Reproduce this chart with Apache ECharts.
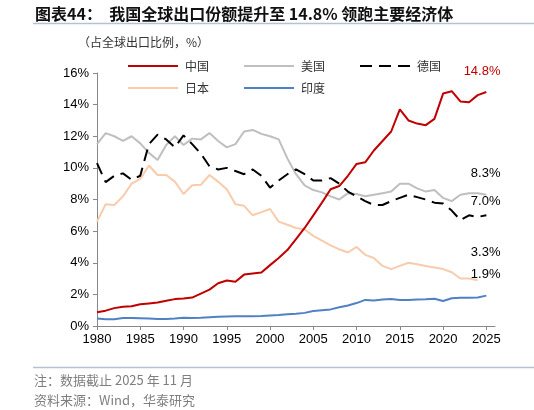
<!DOCTYPE html>
<html>
<head>
<meta charset="utf-8">
<script src="https://cdn.jsdelivr.net/npm/echarts@6/dist/echarts.min.js"></script>
<style>
html,body{margin:0;padding:0;background:#fff;}
#c{width:534px;height:410px;}
</style>
</head>
<body>
<div id="c"></div>
<script>
var years = [];
for (var y = 1980; y <= 2025; y++) years.push(y);

var china = [0.87,0.97,1.13,1.22,1.25,1.38,1.43,1.48,1.6,1.7,1.74,1.8,2.05,2.3,2.7,2.88,2.8,3.25,3.32,3.38,3.85,4.3,4.8,5.5,6.2,7.0,7.8,8.65,8.85,9.5,10.25,10.35,11.1,11.7,12.3,13.7,13.0,12.8,12.7,13.1,14.7,14.85,14.2,14.15,14.6,14.8];
var usa = [11.5,12.2,12.0,11.7,12.0,11.55,10.95,10.5,11.45,12.0,11.45,11.85,11.8,12.2,11.7,11.3,11.5,12.3,12.4,12.15,12.0,11.8,10.6,9.6,8.9,8.6,8.45,8.2,8.0,8.4,8.35,8.2,8.3,8.4,8.5,9.0,9.0,8.7,8.5,8.6,8.1,7.9,8.3,8.4,8.4,8.3];
var germany = [10.3,9.1,9.5,9.65,9.25,9.5,11.5,12.1,11.8,11.3,12.05,11.5,10.9,10.1,9.9,10.0,9.8,9.6,9.9,9.5,8.75,9.2,9.6,9.9,9.6,9.2,9.2,9.35,9.0,8.5,8.2,7.9,7.65,7.65,7.9,8.1,8.3,8.15,8.0,7.8,7.75,7.3,6.7,7.0,6.9,7.0];
var japan = [6.6,7.7,7.65,8.2,9.0,9.3,10.15,9.55,9.55,9.13,8.35,8.9,8.93,9.55,9.13,8.65,7.7,7.6,7.0,7.2,7.4,6.6,6.4,6.2,6.1,5.7,5.4,5.1,4.85,4.65,5.0,4.5,4.3,3.8,3.6,3.8,4.0,3.9,3.8,3.7,3.6,3.4,3.0,3.0,2.9,null];
var india = [0.48,0.43,0.43,0.5,0.5,0.49,0.47,0.45,0.45,0.48,0.52,0.51,0.52,0.55,0.58,0.6,0.61,0.62,0.61,0.63,0.66,0.69,0.74,0.78,0.83,0.95,1.0,1.05,1.18,1.3,1.45,1.65,1.62,1.67,1.7,1.64,1.65,1.68,1.69,1.72,1.58,1.75,1.79,1.79,1.8,1.92];

var xTicks = [1980,1985,1990,1995,2000,2005,2010,2015,2020,2025];
var endLabels = ['14.8%','8.3%','7.0%','3.3%','1.9%'];
var titleText = '图表44：  我国全球出口份额提升至 14.8% 领跑主要经济体';
var unitText = '（占全球出口比例，%）';
var noteText = '注：数据截止 2025 年 11 月';
var sourceText = '资料来源：Wind，华泰研究';

function pairs(arr){ return years.map(function(y,i){ return [y, arr[i]]; }); }

var FONT = '"Liberation Sans", Arial, "Noto Sans CJK SC", sans-serif';
var CJK = '"Noto Sans CJK SC", "Liberation Sans", sans-serif';
var DASH_ICON = 'path://M0,0h12v2h-12zM19,0h12v2h-12zM38,0h12v2h-12z';

var legendText = {fontSize: 12, color: '#333', fontFamily: CJK, padding: [0,0,0,2]};

var chart = echarts.init(document.getElementById('c'), null, {renderer:'canvas'});
var option = {
  animation: false,
  backgroundColor: '#fff',
  textStyle: {fontFamily: FONT},
  grid: {left: 97, right: 39, top: 73, bottom: 84},
  legend: [
    {data: [{name:'中国', icon:'rect'}, {name:'美国', icon:'rect'}, {name:'德国', icon: DASH_ICON}],
     left: 128, top: 60, padding: 0, itemWidth: 50, itemHeight: 2, itemGap: 35, textStyle: legendText},
    {data: [{name:'日本', icon:'rect'}, {name:'印度', icon:'rect'}],
     left: 128, top: 82, padding: 0, itemWidth: 50, itemHeight: 2, itemGap: 35, textStyle: legendText}
  ],
  xAxis: {
    type: 'value', min: 1980, max: 2026,
    axisLine: {show: true, lineStyle: {color: '#888', width: 1}},
    axisTick: {show: true, length: 4, inside: false, customValues: xTicks, lineStyle: {color: '#888'}},
    axisLabel: {customValues: xTicks, color: '#000', fontSize: 13, margin: 7, fontFamily: FONT,
      formatter: function(v){ return String(v); }},
    splitLine: {show: false}
  },
  yAxis: {
    type: 'value', min: 0, max: 16, interval: 2,
    axisLine: {show: true, lineStyle: {color: '#888', width: 1}},
    axisTick: {show: true, length: 4, inside: false, lineStyle: {color: '#888'}},
    axisLabel: {formatter: '{value}%', color: '#000', fontSize: 13, margin: 8, fontFamily: FONT},
    splitLine: {show: false}
  },
  series: [
    {name: '印度', type: 'line', data: pairs(india), symbol: 'none', lineStyle: {color: '#4F81C4', width: 2}, itemStyle: {color: '#4F81C4'}},
    {name: '日本', type: 'line', data: pairs(japan), symbol: 'none', lineStyle: {color: '#F8CBAD', width: 2}, itemStyle: {color: '#F8CBAD'}},
    {name: '美国', type: 'line', data: pairs(usa), symbol: 'none', lineStyle: {color: '#BFBFBF', width: 2}, itemStyle: {color: '#BFBFBF'}},
    {name: '德国', type: 'line', data: pairs(germany), symbol: 'none', lineStyle: {color: '#000', width: 2, type: [12,7]}, itemStyle: {color: '#000'}},
    {name: '中国', type: 'line', data: pairs(china), symbol: 'none', lineStyle: {color: '#C00000', width: 2}, itemStyle: {color: '#C00000'}}
  ],
  graphic: [
    {type: 'text', left: 35, top: 6, style: {text: titleText, font: 'bold 16px ' + CJK, fill: '#111'}},
    {type: 'line', shape: {x1: 33, y1: 23.5, x2: 534, y2: 23.5}, style: {stroke: '#B4C3D3', lineWidth: 1.5}},
    {type: 'text', left: 78, top: 36, style: {text: unitText, font: '12px ' + CJK, fill: '#333'}},
    {type: 'text', x: 500.5, y: 71, style: {text: endLabels[0], font: '13px ' + FONT, fill: '#C00000', align: 'right', verticalAlign: 'middle'}},
    {type: 'text', x: 500.5, y: 173, style: {text: endLabels[1], font: '13px ' + FONT, fill: '#000', align: 'right', verticalAlign: 'middle'}},
    {type: 'text', x: 500.5, y: 201, style: {text: endLabels[2], font: '13px ' + FONT, fill: '#000', align: 'right', verticalAlign: 'middle'}},
    {type: 'text', x: 500.5, y: 252, style: {text: endLabels[3], font: '13px ' + FONT, fill: '#000', align: 'right', verticalAlign: 'middle'}},
    {type: 'text', x: 500.5, y: 274, style: {text: endLabels[4], font: '13px ' + FONT, fill: '#000', align: 'right', verticalAlign: 'middle'}},
    {type: 'line', shape: {x1: 33, y1: 367.5, x2: 534, y2: 367.5}, style: {stroke: '#B4C3D3', lineWidth: 1.5}},
    {type: 'text', x: 34, y: 380, style: {text: noteText, font: '13px ' + CJK, fill: '#7F7F7F', verticalAlign: 'middle'}},
    {type: 'text', x: 34, y: 400, style: {text: sourceText, font: '13px ' + CJK, fill: '#7F7F7F', verticalAlign: 'middle'}}
  ]
};
chart.setOption(option);
</script>
</body>
</html>
